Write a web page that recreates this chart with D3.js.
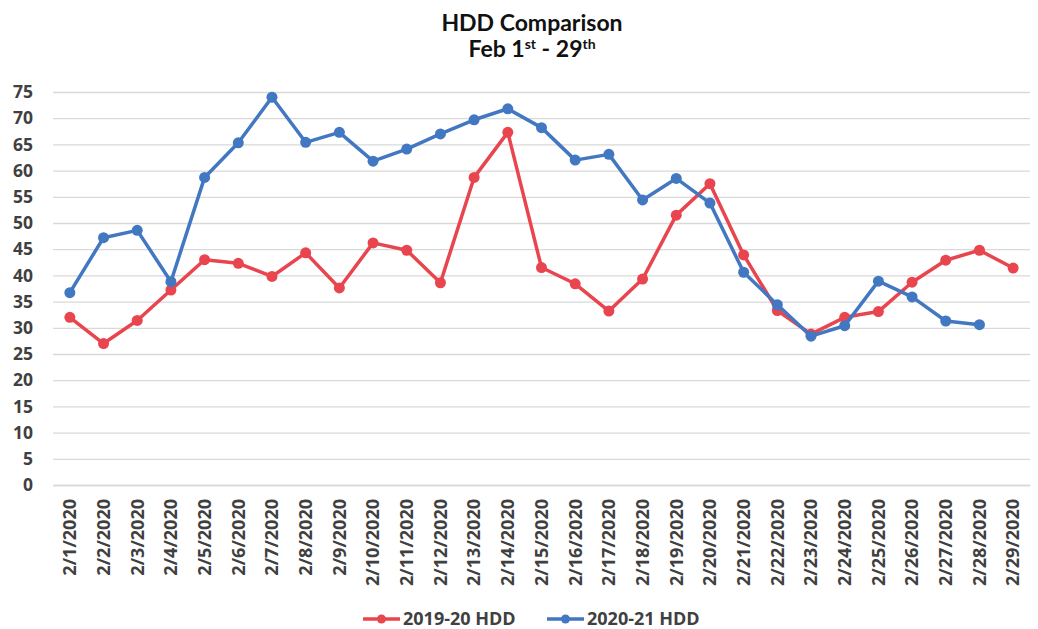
<!DOCTYPE html>
<html>
<head>
<meta charset="utf-8">
<script src="https://cdn.jsdelivr.net/npm/d3@7"></script>
<style>
  body { margin: 0; background: #fff; }
  text { font-family: "Open Sans", sans-serif; font-weight: bold; }
</style>
</head>
<body>
<svg id="chart"></svg>
<script>
// data
const dates = ['2/1/2020','2/2/2020','2/3/2020','2/4/2020','2/5/2020','2/6/2020','2/7/2020','2/8/2020',
  '2/9/2020','2/10/2020','2/11/2020','2/12/2020','2/13/2020','2/14/2020','2/15/2020','2/16/2020',
  '2/17/2020','2/18/2020','2/19/2020','2/20/2020','2/21/2020','2/22/2020','2/23/2020','2/24/2020',
  '2/25/2020','2/26/2020','2/27/2020','2/28/2020','2/29/2020'];
const hdd1920 = [32.0, 27.0, 31.4, 37.2, 43.0, 42.3, 39.8, 44.3, 37.6, 46.2, 44.8, 38.6, 58.7, 67.3,
  41.5, 38.4, 33.2, 39.3, 51.5, 57.5, 43.9, 33.3, 28.8, 32.0, 33.1, 38.7, 42.9, 44.8, 41.4];
const hdd2021 = [36.7, 47.2, 48.6, 38.8, 58.7, 65.3, 74.0, 65.4, 67.3, 61.8, 64.1, 67.0, 69.7, 71.8,
  68.2, 62.0, 63.1, 54.4, 58.5, 53.8, 40.6, 34.4, 28.4, 30.4, 38.9, 35.9, 31.3, 30.6, null];
const yTicks = d3.range(0, 80, 5);
const seriesNames = ['2019-20 HDD', '2020-21 HDD'];
const seriesColors = ['#e8454f', '#4277c2'];

const width = 1038, height = 629;
const margin = {top: 92, right: 8, bottom: 144, left: 53};
const innerW = width - margin.left - margin.right;
const innerH = height - margin.top - margin.bottom;

const svg = d3.select('#chart')
  .attr('width', width)
  .attr('height', height);

const chart = svg.append('g')
  .attr('transform', `translate(${margin.left},${margin.top})`);

const xScale = d3.scaleBand().domain(dates).range([0, innerW]);
const yScale = d3.scaleLinear().domain([0, 75]).range([innerH, 0]);
const xPos = d => xScale(d) + xScale.bandwidth() / 2;

// gridlines + y labels
const yAxis = d3.axisLeft(yScale)
  .tickValues(yTicks)
  .tickSizeInner(-innerW)
  .tickSizeOuter(0)
  .tickPadding(20);

chart.append('g')
  .attr('class', 'y-axis')
  .call(yAxis)
  .call(g => g.select('.domain').remove())
  .call(g => g.selectAll('.tick line').attr('stroke', '#d9d9d9').attr('stroke-width', 1.3))
  .call(g => g.selectAll('.tick text')
    .attr('fill', '#404040')
    .style('font-size', '17.5px'));

// x labels, rotated
const xAxis = d3.axisBottom(xScale).tickSize(0).tickPadding(0);
chart.append('g')
  .attr('class', 'x-axis')
  .attr('transform', `translate(0,${innerH})`)
  .call(xAxis)
  .call(g => g.select('.domain').attr('stroke', '#d9d9d9').attr('stroke-width', 1.3))
  .call(g => g.selectAll('.tick text')
    .attr('fill', '#404040')
    .style('font-size', '18px')
    .attr('text-anchor', 'end')
    .attr('dy', '0.35em')
    .attr('transform', 'translate(0,14) rotate(-90)'));

// lines + markers
const allSeries = [hdd1920, hdd2021];
const line = d3.line()
  .defined(d => d.v !== null)
  .x(d => xPos(d.date))
  .y(d => yScale(d.v));

allSeries.forEach((vals, i) => {
  const pts = vals.map((v, j) => ({date: dates[j], v: v}));
  chart.append('path')
    .datum(pts)
    .attr('fill', 'none')
    .attr('stroke', seriesColors[i])
    .attr('stroke-width', 3.5)
    .attr('stroke-linejoin', 'round')
    .attr('d', line);
  chart.selectAll('.pt' + i)
    .data(pts.filter(d => d.v !== null))
    .join('circle')
    .attr('class', 'pt' + i)
    .attr('cx', d => xPos(d.date))
    .attr('cy', d => yScale(d.v))
    .attr('r', 5.5)
    .attr('fill', seriesColors[i]);
});

// title
const title = svg.append('text')
  .attr('x', 532)
  .attr('y', 31)
  .attr('text-anchor', 'middle')
  .attr('fill', '#111')
  .style('font-family', 'Lato, sans-serif')
  .style('font-size', '23px');
title.text('HDD Comparison');

const sub = svg.append('text')
  .attr('x', 532)
  .attr('y', 57)
  .attr('text-anchor', 'middle')
  .attr('fill', '#111')
  .style('font-family', 'Lato, sans-serif')
  .style('font-size', '23px');
sub.append('tspan').text('Feb 1');
sub.append('tspan').attr('dy', -8).style('font-size', '14px').text('st');
sub.append('tspan').attr('dy', 8).text(' - 29');
sub.append('tspan').attr('dy', -8).style('font-size', '14px').text('th');

// legend
const legendX = [363, 547];
const legend = svg.append('g').attr('class', 'legend');
seriesNames.forEach((name, i) => {
  const g = legend.append('g').attr('transform', `translate(${legendX[i]},619)`);
  g.append('line')
    .attr('x1', 0).attr('x2', 37)
    .attr('stroke', seriesColors[i])
    .attr('stroke-width', 3.5);
  g.append('circle')
    .attr('cx', 18.5).attr('r', 4.5)
    .attr('fill', seriesColors[i]);
  g.append('text')
    .attr('x', 40)
    .attr('dy', '0.35em')
    .attr('fill', '#404040')
    .style('font-size', '18px')
    .text(name);
});
</script>
</body>
</html>
